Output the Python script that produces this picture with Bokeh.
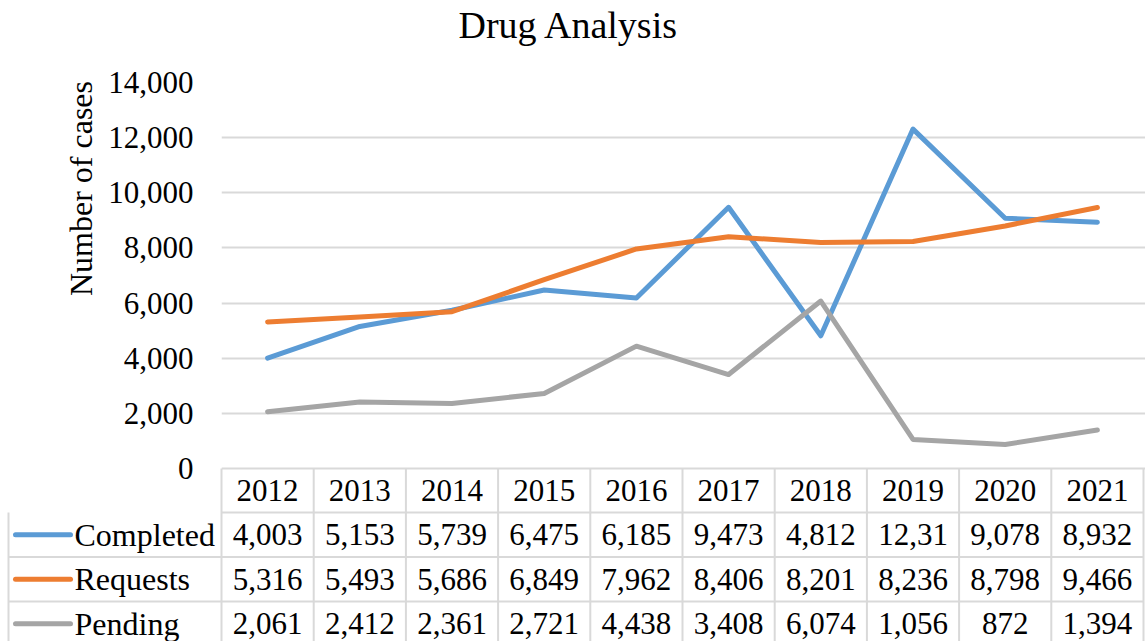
import math

from bokeh.plotting import figure
from bokeh.models import Range1d, FixedTicker, NumeralTickFormatter, ColumnDataSource
from bokeh.core.properties import value
from bokeh.embed import file_html
from bokeh.resources import INLINE

# ---- data -------------------------------------------------------------
years = ["2012", "2013", "2014", "2015", "2016", "2017", "2018", "2019", "2020", "2021"]
completed = [4003, 5153, 5739, 6475, 6185, 9473, 4812, 12310, 9078, 8932]
requests = [5316, 5493, 5686, 6849, 7962, 8406, 8201, 8236, 8798, 9466]
pending = [2061, 2412, 2361, 2721, 4438, 3408, 6074, 1056, 872, 1394]
series_names = ["Completed", "Requests", "Pending"]
y_ticks = [0, 2000, 4000, 6000, 8000, 10000, 12000, 14000]

# ---- styling / geometry ------------------------------------------------
COLORS = ["#5B9BD5", "#ED7D31", "#A5A5A5"]
BORDER = "#D9D9D9"
FONT = "Liberation Serif"
FS = "31px"

W, H = 1145, 641
PLOT_LEFT = 221          # left edge of the plot area / first year column
PLOT_TOP = 82            # pixel row of the top gridline
ZERO_PX = 468            # pixel row of the zero line (top of the table)
HEADER_BOTTOM = 512      # bottom of the year header row
ROW_H = 44.5             # height of each series row
TABLE_LEFT = 8           # left edge of the legend column
COL_W = (W - 2 - PLOT_LEFT) / 10.0

Y_MAX = y_ticks[-1]
units_per_px = Y_MAX / (ZERO_PX - PLOT_TOP)


def py(px):
    """pixel row -> value-axis units"""
    return (ZERO_PX - px) * units_per_px


def px_x(px):
    """pixel column -> column units (year i spans [i, i+1])"""
    return (px - PLOT_LEFT) / COL_W


n = len(years)
xs = [i + 0.5 for i in range(n)]

p = figure(width=W, height=H, output_backend="svg", toolbar_location=None,
           x_range=Range1d(0, px_x(W)),
           y_range=Range1d(py(H), Y_MAX),
           x_axis_location=None,
           min_border_left=PLOT_LEFT, min_border_right=0,
           min_border_top=PLOT_TOP, min_border_bottom=0)
p.outline_line_color = None
p.background_fill_color = "white"
p.border_fill_color = "white"
p.xgrid.visible = False

ax = p.yaxis[0]
ax.ticker = FixedTicker(ticks=y_ticks)
ax.formatter = NumeralTickFormatter(format="0,0")
ax.axis_line_color = None
ax.major_tick_line_color = None
ax.minor_tick_line_color = None
ax.major_tick_out = 0
ax.major_tick_in = 0
ax.major_label_standoff = 28
ax.major_label_text_font = FONT
ax.major_label_text_font_size = FS
ax.major_label_text_color = "black"

p.ygrid.ticker = FixedTicker(ticks=y_ticks)
p.ygrid.grid_line_color = BORDER
p.ygrid.grid_line_width = 2

# chart title and value-axis title, drawn in the margins
p.text(x=[px_x(458)], y=[py(24.5)], text=["Drug Analysis"],
       text_align="left", text_baseline="middle",
       text_font=value(FONT), text_font_size="38px", text_color="black",
       level="overlay")
p.text(x=[px_x(80)], y=[py(188)], text=["Number of cases"], angle=math.pi / 2,
       text_align="center", text_baseline="middle",
       text_font=value(FONT), text_font_size="32px", text_color="black",
       level="overlay")

for vals, color in zip([completed, requests, pending], COLORS):
    p.line(xs, vals, line_color=color, line_width=5,
           line_cap="round", line_join="round")

# ---- data table below the plot area ------------------------------------
leg_x = px_x(TABLE_LEFT)
row_tops = [HEADER_BOTTOM + ROW_H * k for k in range(len(series_names))]
bottom = py(H + 20)

# table rules: horizontal, then vertical
hx0 = [0] + [leg_x] * len(row_tops)
hx1 = [n] * (len(row_tops) + 1)
hy = [py(HEADER_BOTTOM)] + [py(r + ROW_H) for r in row_tops]
p.segment(x0=hx0, y0=hy, x1=hx1, y1=hy,
          line_color=BORDER, line_width=2, level="overlay")
vx = list(range(n + 1)) + [leg_x]
vy0 = [0] * (n + 1) + [py(HEADER_BOTTOM)]
p.segment(x0=vx, y0=vy0, x1=vx, y1=[bottom] * len(vx),
          line_color=BORDER, line_width=2, level="overlay")

# year header
p.text(x=xs, y=[py((ZERO_PX + HEADER_BOTTOM) / 2)] * n, text=years,
       text_align="center", text_baseline="middle",
       text_font=value(FONT), text_font_size=FS, text_color="black")


def cell_text(v):
    s = f"{v:,}"
    return s if len(s) <= 5 else s[:5]   # narrow cells cut long numbers


for r, (name, vals, color) in enumerate(zip(series_names,
                                            [completed, requests, pending],
                                            COLORS)):
    ym = py(row_tops[r] + ROW_H / 2)
    p.segment(x0=[px_x(15)], y0=[ym], x1=[px_x(70)], y1=[ym],
              line_color=color, line_width=5, line_cap="round", level="overlay")
    p.text(x=[px_x(74)], y=[ym], text=[name], text_align="left",
           text_baseline="middle", text_font=value(FONT),
           text_font_size="32px", text_color="black", level="overlay")
    src = ColumnDataSource(dict(x=xs, y=[ym] * n,
                                t=[cell_text(v) for v in vals]))
    p.text(x="x", y="y", text="t", source=src, text_align="center",
           text_baseline="middle", text_font=value(FONT),
           text_font_size=FS, text_color="black")

open("out.html", "w").write(file_html(p, INLINE))
